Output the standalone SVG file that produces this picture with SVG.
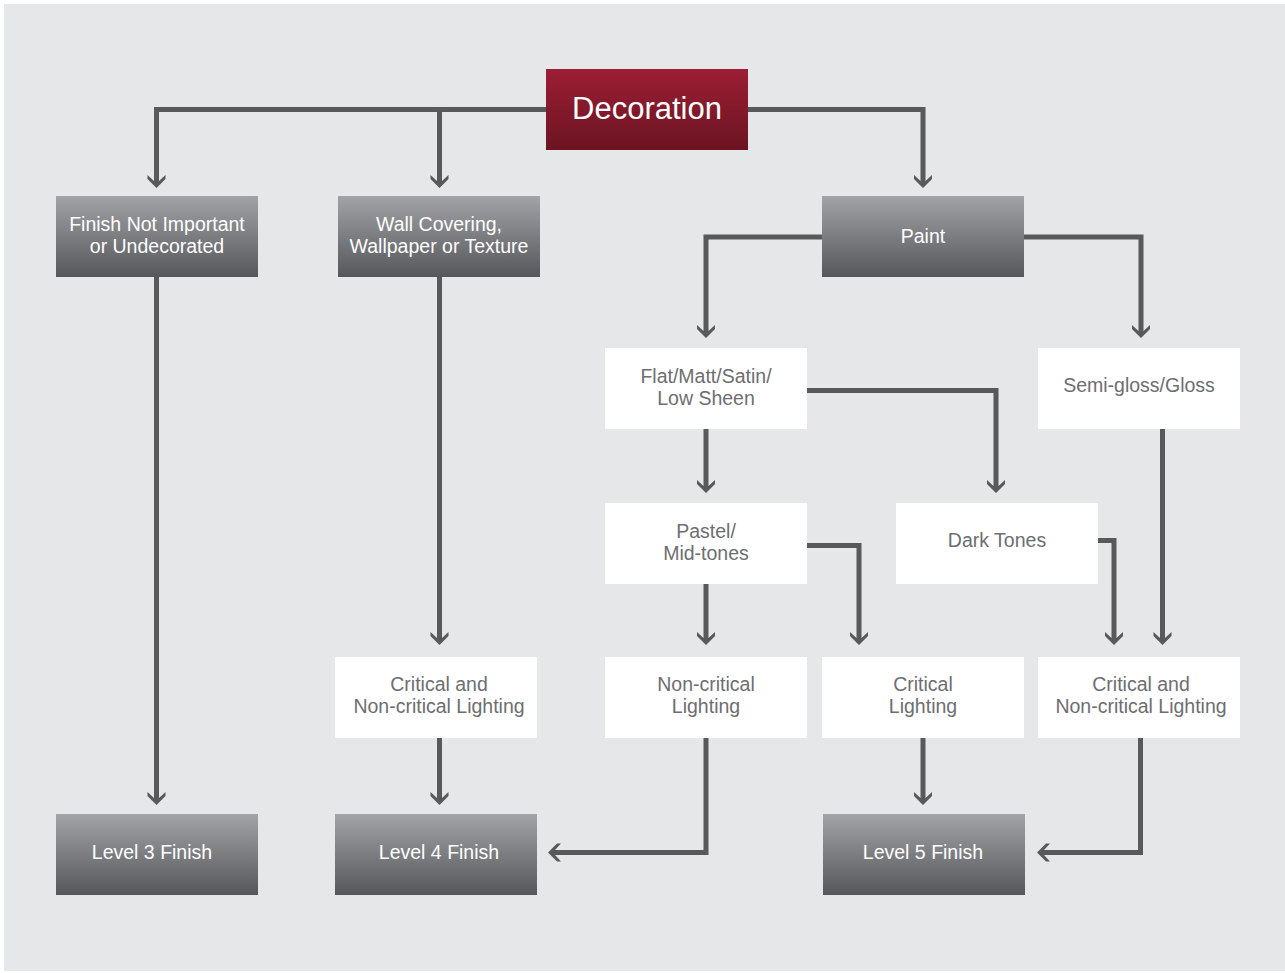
<svg xmlns="http://www.w3.org/2000/svg" width="1285" height="973" viewBox="0 0 1285 973">
<defs>
<linearGradient id="gGray" x1="0" y1="0" x2="0" y2="1">
<stop offset="0" stop-color="#a2a3a6"/>
<stop offset="1" stop-color="#56575a"/>
</linearGradient>
<linearGradient id="gRed" x1="0" y1="0" x2="0" y2="1">
<stop offset="0" stop-color="#9c1e34"/>
<stop offset="1" stop-color="#6b1422"/>
</linearGradient>
<marker id="arr" markerUnits="userSpaceOnUse" markerWidth="20" markerHeight="20" refX="0" refY="0" orient="auto" overflow="visible">
<path d="M7,0 L-2,9 L-6,9 L0,2.5 L0,-2.5 L-6,-9 L-2,-9 Z" fill="#58595b"/>
</marker>
<style>
.g{fill:url(#gGray)}
.w{fill:#ffffff}
.tw{font-family:"Liberation Sans",Arial,sans-serif;font-size:19.5px;fill:#ffffff;text-anchor:middle}
.tg{font-family:"Liberation Sans",Arial,sans-serif;font-size:19.5px;fill:#6d6e71;text-anchor:middle}
.c path{fill:none;stroke:#58595b;stroke-width:5;stroke-linejoin:miter}
.c path.a{marker-end:url(#arr)}
</style>
</defs>
<rect x="0" y="0" width="1285" height="973" fill="#ffffff"/>
<rect x="4" y="4" width="1281" height="967" fill="#e6e7e8"/>

<g class="c" id="connectors">
<path class="a" d="M546,109.5 H156.5 V181"/>
<path class="a" d="M439.5,109.5 V181"/>
<path class="a" d="M748,109.5 H923 V181"/>
<path class="a" d="M822,237 H706 V331"/>
<path class="a" d="M1024,237 H1141 V331"/>
<path class="a" d="M807,390.5 H996 V486"/>
<path class="a" d="M706,429 V486"/>
<path class="a" d="M706,584 V638"/>
<path class="a" d="M807,545.5 H859 V638"/>
<path class="a" d="M1098,540.5 H1114 V638"/>
<path class="a" d="M1162.5,429 V638"/>
<path class="a" d="M156.5,277 V798"/>
<path class="a" d="M439.5,277 V638"/>
<path class="a" d="M439.5,738 V798"/>
<path class="a" d="M706,738 V852.5 H555"/>
<path class="a" d="M923,738 V798"/>
<path class="a" d="M1140.5,738 V852.5 H1044"/>
</g>

<g id="decoration">
<rect x="546" y="69" width="202" height="81" fill="url(#gRed)"/>
<text x="647" y="119" font-family="Liberation Sans,Arial,sans-serif" font-size="31" fill="#ffffff" text-anchor="middle">Decoration</text>
</g>
<g id="finish-not-important">
<rect class="g" x="56" y="196" width="202" height="81"/>
<text class="tw" x="157" y="231">Finish Not Important</text>
<text class="tw" x="157" y="253">or Undecorated</text>
</g>
<g id="wall-covering">
<rect class="g" x="338" y="196" width="202" height="81"/>
<text class="tw" x="439" y="231">Wall Covering,</text>
<text class="tw" x="439" y="253">Wallpaper or Texture</text>
</g>
<g id="paint">
<rect class="g" x="822" y="196" width="202" height="81"/>
<text class="tw" x="923" y="243">Paint</text>
</g>
<g id="flat">
<rect class="w" x="605" y="348" width="202" height="81"/>
<text class="tg" x="706" y="383">Flat/Matt/Satin/</text>
<text class="tg" x="706" y="405">Low Sheen</text>
</g>
<g id="semi-gloss">
<rect class="w" x="1038" y="348" width="202" height="81"/>
<text class="tg" x="1139" y="392">Semi-gloss/Gloss</text>
</g>
<g id="pastel">
<rect class="w" x="605" y="503" width="202" height="81"/>
<text class="tg" x="706" y="538">Pastel/</text>
<text class="tg" x="706" y="560">Mid-tones</text>
</g>
<g id="dark-tones">
<rect class="w" x="896" y="503" width="202" height="81"/>
<text class="tg" x="997" y="547">Dark Tones</text>
</g>
<g id="crit-noncrit-left">
<rect class="w" x="335" y="657" width="202" height="81"/>
<text class="tg" x="439" y="691">Critical and</text>
<text class="tg" x="439" y="713">Non-critical Lighting</text>
</g>
<g id="noncritical">
<rect class="w" x="605" y="657" width="202" height="81"/>
<text class="tg" x="706" y="691">Non-critical</text>
<text class="tg" x="706" y="713">Lighting</text>
</g>
<g id="critical">
<rect class="w" x="822" y="657" width="202" height="81"/>
<text class="tg" x="923" y="691">Critical</text>
<text class="tg" x="923" y="713">Lighting</text>
</g>
<g id="crit-noncrit-right">
<rect class="w" x="1038" y="657" width="202" height="81"/>
<text class="tg" x="1141" y="691">Critical and</text>
<text class="tg" x="1141" y="713">Non-critical Lighting</text>
</g>
<g id="level3">
<rect class="g" x="56" y="814" width="202" height="81"/>
<text class="tw" x="152" y="859">Level 3 Finish</text>
</g>
<g id="level4">
<rect class="g" x="335" y="814" width="202" height="81"/>
<text class="tw" x="439" y="859">Level 4 Finish</text>
</g>
<g id="level5">
<rect class="g" x="823" y="814" width="202" height="81"/>
<text class="tw" x="923" y="859">Level 5 Finish</text>
</g>
</svg>
